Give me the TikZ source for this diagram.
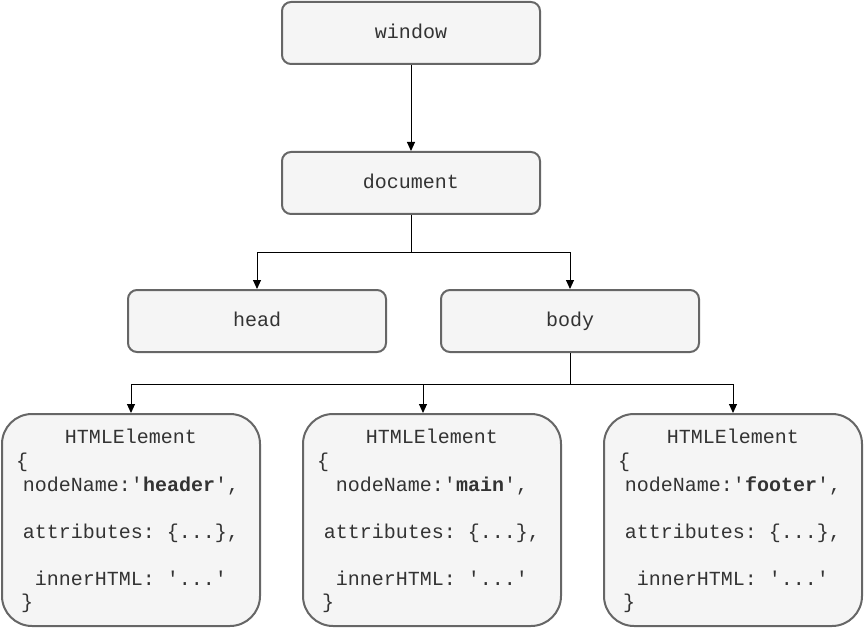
\documentclass[tikz,border=0pt]{standalone}
\usepackage{fontspec}
\setmonofont{Liberation Mono}
\usetikzlibrary{arrows.meta,calc}
\definecolor{boxfill}{HTML}{F5F5F5}
\definecolor{boxline}{HTML}{666666}
\definecolor{txt}{HTML}{333333}
\begin{document}
\frenchspacing
\begin{tikzpicture}[x=1pt,y=-1pt,
  topbox/.style={draw=boxline,fill=boxfill,line width=2pt,rounded corners=9pt,
    minimum width=258pt,minimum height=62pt,inner sep=0pt,text=txt,
    text height=15pt,text depth=4pt,
    font=\ttfamily\fontsize{20}{24}\selectfont},
  elbox/.style={draw=boxline,fill=boxfill,line width=2pt,rounded corners=30pt,
    minimum width=258pt,minimum height=212pt,inner sep=0pt},
  ln/.style={inner sep=0pt,anchor=base,text=txt,font=\ttfamily\fontsize{20}{24}\selectfont},
  lnw/.style={ln,anchor=base west},
  arr/.style={draw=black,line width=1pt,-{Triangle[length=9pt,width=8pt]}}]
\useasboundingbox (0,0) rectangle (864,628);
\node[topbox] (window) at (411,33) {window};
\node[topbox] (doc) at (411,183) {document};
\node[topbox] (head) at (257,321) {head};
\node[topbox] (body) at (570,321) {body};
\node[elbox] (e1) at (131,520) {};
\node[elbox] (e2) at (432,520) {};
\node[elbox] (e3) at (733,520) {};
\foreach \n/\cx/\nm in {e1/131/header,e2/432/main,e3/733/footer}{
  \node[ln] (\n t) at (\cx,443) {HTMLElement};
  \node[lnw] (\n o) at (\cx-131+16,467) {\{};
  \node[ln] (\n a) at (\cx,491) {nodeName:'\textbf{\nm}',};
  \node[ln] (\n b) at (\cx,538) {attributes: \{...\},};
  \node[ln] (\n c) at (\cx,585) {innerHTML: '...'};
  \node[lnw] (\n d) at (\cx-131+21,608) {\}};
}
\draw[arr] (window.south) -- (doc.north);
\draw[arr] (doc.south) -- ++(0,38) -| (head.north);
\draw[arr] (doc.south) -- ++(0,38) -| (body.north);
\coordinate (e2in) at ([xshift=-9pt]e2.north);
\draw[arr] (body.south) -- ++(0,31) -| (e1.north);
\draw[arr] (body.south) -- ++(0,31) -| (e2in);
\draw[arr] (body.south) -- ++(0,31) -| (e3.north);
\end{tikzpicture}
\end{document}
